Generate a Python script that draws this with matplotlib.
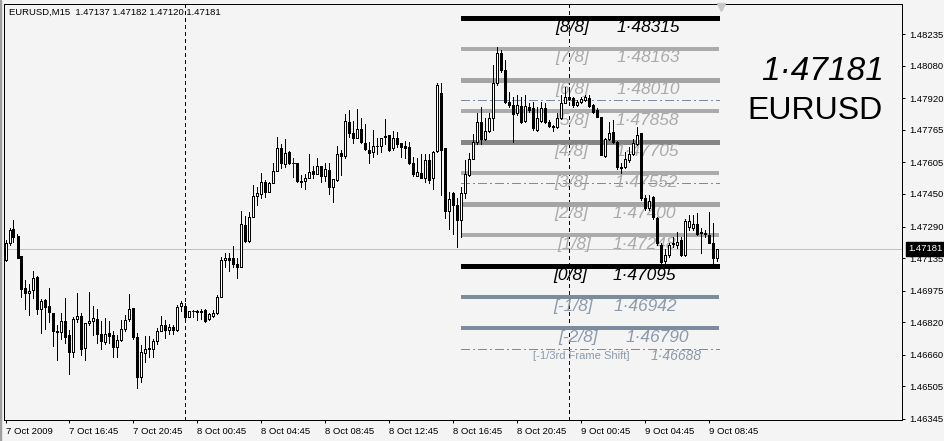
import matplotlib
matplotlib.use("Agg")
import matplotlib.pyplot as plt
from matplotlib.transforms import blended_transform_factory
from matplotlib.patches import Rectangle
import numpy as np

plt.rcParams['font.family'] = ['Liberation Sans', 'DejaVu Sans']

symbol = "EURUSD"
timeframe = "M15"

opens = [
    1.47126, 1.47208, 1.47276, 1.47244, 1.47145, 1.46986, 1.46962, 1.46976, 1.47042, 1.46883,
    1.46929, 1.46899, 1.46865, 1.46778, 1.46772, 1.46826, 1.46757, 1.46672, 1.46834, 1.46850,
    1.46691, 1.46814, 1.46826, 1.46835, 1.46762, 1.46721, 1.46767, 1.46755, 1.46696, 1.46731,
    1.46786, 1.46834, 1.46888, 1.46749, 1.46552, 1.46670, 1.46693, 1.46690, 1.46727, 1.46777,
    1.46804, 1.46781, 1.46795, 1.46781, 1.46899, 1.46899, 1.46847, 1.46875, 1.46873, 1.46875,
    1.46880, 1.46834, 1.46850, 1.46863, 1.46942, 1.47126, 1.47135, 1.47135, 1.47106, 1.47093,
    1.47298, 1.47217, 1.47335, 1.47442, 1.47450, 1.47509, 1.47462, 1.47503, 1.47565, 1.47675,
    1.47596, 1.47655, 1.47601, 1.47601, 1.47516, 1.47514, 1.47530, 1.47563, 1.47550, 1.47588,
    1.47540, 1.47568, 1.47486, 1.47517, 1.47650, 1.47639, 1.47803, 1.47748, 1.47727, 1.47770,
    1.47699, 1.47667, 1.47655, 1.47686, 1.47686, 1.47729, 1.47740, 1.47675, 1.47724, 1.47699,
    1.47686, 1.47680, 1.47601, 1.47540, 1.47552, 1.47530, 1.47617, 1.47527, 1.47662, 1.47945,
    1.47675, 1.47368, 1.47453, 1.47396, 1.47322, 1.47457, 1.47544, 1.47621, 1.47704, 1.47806,
    1.47721, 1.47762, 1.47822, 1.47994, 1.48145, 1.48060, 1.47904, 1.47888, 1.47850, 1.47883,
    1.47811, 1.47880, 1.47871, 1.47765, 1.47811, 1.47871, 1.47806, 1.47784, 1.47778, 1.47822,
    1.47899, 1.47925, 1.47921, 1.47888, 1.47904, 1.47912, 1.47921, 1.47888, 1.47863, 1.47827,
    1.47637, 1.47719, 1.47757, 1.47707, 1.47581, 1.47581, 1.47617, 1.47647, 1.47696, 1.47748,
    1.47429, 1.47380, 1.47434, 1.47334, 1.47199, 1.47122, 1.47150, 1.47208, 1.47199, 1.47224,
    1.47150, 1.47286, 1.47281, 1.47303, 1.47265, 1.47257, 1.47249, 1.47211, 1.47137]

highs = [
    1.47224, 1.47281, 1.47322, 1.47253, 1.47145, 1.47027, 1.47008, 1.47072, 1.47047, 1.46932,
    1.46932, 1.46988, 1.46865, 1.46806, 1.46867, 1.46937, 1.46780, 1.46844, 1.46965, 1.46863,
    1.46817, 1.46970, 1.46901, 1.46885, 1.46826, 1.46842, 1.46826, 1.46775, 1.46757, 1.46831,
    1.46855, 1.46957, 1.46888, 1.46765, 1.46708, 1.46754, 1.46752, 1.46737, 1.46790, 1.46850,
    1.46831, 1.46811, 1.46806, 1.46903, 1.46924, 1.46916, 1.46877, 1.46880, 1.46880, 1.46883,
    1.46883, 1.46867, 1.46880, 1.46954, 1.47139, 1.47162, 1.47158, 1.47195, 1.47134, 1.47368,
    1.47342, 1.47363, 1.47494, 1.47486, 1.47552, 1.47519, 1.47511, 1.47601, 1.47732, 1.47696,
    1.47719, 1.47662, 1.47626, 1.47601, 1.47544, 1.47547, 1.47645, 1.47589, 1.47626, 1.47588,
    1.47601, 1.47601, 1.47524, 1.47686, 1.47667, 1.47844, 1.47863, 1.47809, 1.47868, 1.47825,
    1.47794, 1.47707, 1.47765, 1.47727, 1.47727, 1.47819, 1.47740, 1.47760, 1.47757, 1.47699,
    1.47711, 1.47707, 1.47634, 1.47629, 1.47645, 1.47645, 1.47645, 1.47662, 1.47998, 1.47998,
    1.47675, 1.47462, 1.47462, 1.47429, 1.47486, 1.47617, 1.47653, 1.47745, 1.47847, 1.47880,
    1.47822, 1.47847, 1.48084, 1.48171, 1.48158, 1.48109, 1.47953, 1.47929, 1.47937, 1.47925,
    1.47937, 1.47896, 1.47904, 1.47880, 1.47904, 1.47896, 1.47814, 1.47789, 1.47847, 1.47937,
    1.47978, 1.47978, 1.47929, 1.47912, 1.47929, 1.47937, 1.47937, 1.47893, 1.47871, 1.47830,
    1.47724, 1.47806, 1.47814, 1.47712, 1.47601, 1.47658, 1.47683, 1.47719, 1.47781, 1.47752,
    1.47445, 1.47445, 1.47440, 1.47339, 1.47208, 1.47178, 1.47208, 1.47237, 1.47265, 1.47240,
    1.47326, 1.47347, 1.47347, 1.47355, 1.47281, 1.47273, 1.47363, 1.47306, 1.47182]

lows = [
    1.47122, 1.47199, 1.47216, 1.47134, 1.46945, 1.46886, 1.46854, 1.46937, 1.46862, 1.46768,
    1.46786, 1.46822, 1.46704, 1.46632, 1.46736, 1.46716, 1.46567, 1.46647, 1.46822, 1.46658,
    1.46634, 1.46806, 1.46757, 1.46716, 1.46686, 1.46711, 1.46719, 1.46647, 1.46647, 1.46726,
    1.46776, 1.46826, 1.46739, 1.46495, 1.46527, 1.46626, 1.46647, 1.46647, 1.46713, 1.46777,
    1.46741, 1.46760, 1.46760, 1.46778, 1.46877, 1.46831, 1.46847, 1.46844, 1.46831, 1.46834,
    1.46819, 1.46831, 1.46847, 1.46860, 1.46942, 1.47093, 1.47073, 1.47093, 1.47036, 1.47093,
    1.47216, 1.47216, 1.47335, 1.47396, 1.47429, 1.47437, 1.47462, 1.47503, 1.47565, 1.47576,
    1.47585, 1.47596, 1.47535, 1.47511, 1.47486, 1.47473, 1.47527, 1.47527, 1.47547, 1.47511,
    1.47514, 1.47449, 1.47412, 1.47516, 1.47544, 1.47626, 1.47732, 1.47703, 1.47727, 1.47699,
    1.47667, 1.47601, 1.47634, 1.47645, 1.47658, 1.47694, 1.47662, 1.47667, 1.47680, 1.47634,
    1.47626, 1.47596, 1.47540, 1.47539, 1.47527, 1.47511, 1.47503, 1.47473, 1.47658, 1.47445,
    1.47330, 1.47276, 1.47253, 1.47188, 1.47240, 1.47429, 1.47539, 1.47621, 1.47696, 1.47696,
    1.47716, 1.47757, 1.47765, 1.47986, 1.48052, 1.47896, 1.47880, 1.47707, 1.47839, 1.47798,
    1.47806, 1.47855, 1.47765, 1.47762, 1.47806, 1.47801, 1.47778, 1.47762, 1.47773, 1.47817,
    1.47896, 1.47912, 1.47880, 1.47883, 1.47896, 1.47909, 1.47880, 1.47847, 1.47827, 1.47642,
    1.47630, 1.47716, 1.47699, 1.47571, 1.47555, 1.47576, 1.47609, 1.47642, 1.47691, 1.47421,
    1.47371, 1.47371, 1.47326, 1.47199, 1.47093, 1.47093, 1.47142, 1.47191, 1.47183, 1.47145,
    1.47145, 1.47273, 1.47273, 1.47249, 1.47158, 1.47240, 1.47208, 1.47112, 1.47120]

closes = [
    1.47208, 1.47273, 1.47240, 1.47137, 1.46985, 1.46962, 1.46973, 1.47035, 1.46883, 1.46924,
    1.46896, 1.46870, 1.46775, 1.46772, 1.46826, 1.46745, 1.46675, 1.46835, 1.46850, 1.46690,
    1.46814, 1.46826, 1.46839, 1.46762, 1.46729, 1.46760, 1.46750, 1.46696, 1.46731, 1.46786,
    1.46831, 1.46885, 1.46749, 1.46552, 1.46672, 1.46686, 1.46686, 1.46727, 1.46777, 1.46804,
    1.46781, 1.46798, 1.46781, 1.46896, 1.46916, 1.46847, 1.46877, 1.46875, 1.46868, 1.46870,
    1.46827, 1.46859, 1.46867, 1.46942, 1.47126, 1.47134, 1.47126, 1.47104, 1.47090, 1.47301,
    1.47217, 1.47335, 1.47442, 1.47453, 1.47509, 1.47462, 1.47503, 1.47565, 1.47675, 1.47601,
    1.47653, 1.47601, 1.47601, 1.47514, 1.47511, 1.47527, 1.47560, 1.47550, 1.47588, 1.47540,
    1.47573, 1.47486, 1.47522, 1.47645, 1.47639, 1.47809, 1.47748, 1.47724, 1.47770, 1.47704,
    1.47671, 1.47653, 1.47686, 1.47685, 1.47724, 1.47737, 1.47667, 1.47724, 1.47696, 1.47680,
    1.47678, 1.47601, 1.47547, 1.47557, 1.47530, 1.47617, 1.47519, 1.47658, 1.47986, 1.47666,
    1.47368, 1.47424, 1.47396, 1.47322, 1.47457, 1.47547, 1.47621, 1.47704, 1.47806, 1.47721,
    1.47762, 1.47822, 1.47994, 1.48145, 1.48060, 1.47904, 1.47888, 1.47843, 1.47888, 1.47806,
    1.47883, 1.47863, 1.47773, 1.47825, 1.47871, 1.47806, 1.47784, 1.47778, 1.47822, 1.47899,
    1.47925, 1.47919, 1.47888, 1.47904, 1.47916, 1.47925, 1.47883, 1.47855, 1.47830, 1.47642,
    1.47719, 1.47752, 1.47707, 1.47581, 1.47580, 1.47622, 1.47647, 1.47699, 1.47740, 1.47429,
    1.47380, 1.47417, 1.47339, 1.47208, 1.47117, 1.47150, 1.47199, 1.47203, 1.47216, 1.47150,
    1.47319, 1.47319, 1.47303, 1.47253, 1.47257, 1.47252, 1.47211, 1.47134, 1.47181]

time_labels = ["7 Oct 2009", "7 Oct 16:45", "7 Oct 20:45", "8 Oct 00:45", "8 Oct 04:45",
               "8 Oct 08:45", "8 Oct 12:45", "8 Oct 16:45", "8 Oct 20:45", "9 Oct 00:45",
               "9 Oct 04:45", "9 Oct 08:45"]
time_label_bars = [0, 16, 32, 48, 64, 80, 96, 112, 128, 144, 160, 176]
separator_bars = [45, 141]

price_ticks = [1.48235, 1.48080, 1.47920, 1.47765, 1.47605, 1.47450, 1.47290,
               1.47135, 1.46975, 1.46820, 1.46660, 1.46505, 1.46345]

mm_names = ["[8/8]", "[7/8]", "[6/8]", "[5/8]", "[4/8]", "[3/8]", "[2/8]",
            "[1/8]", "[0/8]", "[-1/8]", "[-2/8]"]
mm_levels = [1.48315, 1.48163, 1.48010, 1.47858, 1.47705, 1.47552, 1.47400,
             1.47248, 1.47095, 1.46942, 1.46790]
frame_name = "[-1/3rd Frame Shift]"
frame_shift_levels = [1.47910, 1.47502, 1.46688]

# ---- styles ----
mm_colors = ["#000000", "#ababab", "#a4a4a4", "#ababab", "#858585", "#ababab", "#a4a4a4",
             "#ababab", "#000000", "#7d8c9c", "#7d8c9c"]
mm_text_colors = ["#000000", "#aaaaaa", "#aaaaaa", "#aaaaaa", "#aaaaaa", "#aaaaaa", "#aaaaaa",
                  "#aaaaaa", "#000000", "#8c9aab", "#8c9aab"]
mm_lws = [2.3, 1.5, 2.2, 1.5, 2.4, 1.5, 2.2, 1.5, 2.3, 1.6, 1.6]
mm_name_x = [137.5, 137.5, 137.5, 137.5, 137.3, 137.3, 137.3, 138.0, 137.0, 137.0, 138.3]
mm_val_x = [152.7, 152.7, 152.7, 152.5, 152.5, 152.3, 151.8, 151.8, 151.8, 152.0, 155.0]
mm_x0, mm_x1 = 114.0, 178.3

W, H = 945, 441
fig = plt.figure(figsize=(W / 100, H / 100), dpi=100, facecolor="#f4f4f4")
ax_l, ax_r, ax_t, ax_b = 4, 902, 4, 420
ax = fig.add_axes([ax_l / W, 1 - ax_b / H, (ax_r - ax_l) / W, (ax_b - ax_t) / H])
ax.set_facecolor("#f4f4f4")

o = np.array(opens); h = np.array(highs); l = np.array(lows); c = np.array(closes)
x = np.arange(len(o))
ppx = 0.00004917
# bar centres sit on pixel centres (4 px per bar)
ax.set_xlim(-0.375, 224.125)
ax.set_ylim(1.46339, 1.48384)

PX = 0.72  # one pixel in points

# current price line
ax.axhline(c[-1], color="#c0c0c0", lw=PX, zorder=1, antialiased=False)

# period separators
for sb in separator_bars:
    ax.axvline(sb, color="black", lw=PX, linestyle=(0, (3, 3)), zorder=1.5,
               antialiased=False)

# Murrey math lines
for lvl, col, lw in zip(mm_levels, mm_colors, mm_lws):
    ax.hlines(lvl, mm_x0, mm_x1, colors=col, lw=lw, zorder=2, antialiased=False)
for lvl in frame_shift_levels:
    ax.hlines(lvl, mm_x0, mm_x1, colors="#7d8c9c", lw=PX,
              linestyles=[(0, (9, 3, 2, 3))], zorder=2, antialiased=False)

for name, lvl, tc, nx, vx in zip(mm_names, mm_levels, mm_text_colors, mm_name_x, mm_val_x):
    ax.annotate(name, (nx, lvl), xytext=(0, -9), textcoords="offset pixels",
                fontsize=12.5, style="italic", color=tc, va="center", ha="left", zorder=3)
    ax.annotate(f"{lvl:.5f}".replace(".", "·"), (vx, lvl), xytext=(0, -9),
                textcoords="offset pixels", fontsize=12.5, style="italic", color=tc,
                va="center", ha="left", zorder=3)
ax.annotate(frame_name, (132.0, frame_shift_levels[-1]), xytext=(0, -7),
            textcoords="offset pixels", fontsize=8, color="#8c9aab", va="center",
            ha="left", zorder=3)
ax.annotate(f"{frame_shift_levels[-1]:.5f}".replace(".", "·"), (161.3, frame_shift_levels[-1]),
            xytext=(0, -7), textcoords="offset pixels", fontsize=10, style="italic",
            color="#8c9aab", va="center", ha="left", zorder=3)

# candles
up = c > o
dn = c < o
dj = c == o
wick_cols = np.where(dj, "#0000ff", "#000000")
ax.vlines(x, l, h, colors=list(wick_cols), lw=PX, zorder=5, antialiased=False)
ax.bar(x[up], (c - o)[up], bottom=o[up], width=0.5, color="white", edgecolor="black",
       lw=PX, zorder=6, antialiased=False)
ax.bar(x[dn], (o - c)[dn], bottom=c[dn], width=0.5, color="black", edgecolor="black",
       lw=PX, zorder=6, antialiased=False)
ax.hlines(o[dj], x[dj] - 0.3, x[dj] + 0.3, colors="#0000ff", lw=PX, zorder=6,
          antialiased=False)

# axes styling
for sp in ax.spines.values():
    sp.set_color("black")
    sp.set_linewidth(PX)
ax.yaxis.tick_right()
ax.set_yticks(price_ticks)
ax.set_yticklabels([f"{v:.5f}" for v in price_ticks])
ax.tick_params(axis="y", direction="out", length=2.5, width=PX, pad=3, labelsize=6.8,
               colors="black")
ax.set_xticks(time_label_bars)
ax.set_xticklabels(time_labels, ha="left")
ax.tick_params(axis="x", direction="out", length=2.5, width=PX, pad=2.5, labelsize=6.8)
for lab in ax.get_xticklabels():
    lab.set_horizontalalignment("left")

# current price box on the axis
tr = blended_transform_factory(ax.transAxes, ax.transData)
ax.text(1.0068, c[-1], f"{c[-1]:.5f}", transform=tr, color="white", fontsize=6.8,
        va="center", ha="left", clip_on=False, zorder=10,
        bbox=dict(boxstyle="square,pad=0.25", fc="black", ec="black"))

# chart shift marker
ax.plot([179], [1.48384 - 3 * ppx], marker="v", ms=6, color="#c8c8c8", mec="#c8c8c8",
        clip_on=False, zorder=4)

# header text
fig.text(9 / W, 1 - 12 / H,
         f"{symbol},{timeframe}  {o[-1]:.5f} {h[-1]:.5f} {l[-1]:.5f} {c[-1]:.5f}",
         fontsize=6.8, va="center", ha="left", color="black")

# big price and symbol
fig.text(884 / W, 1 - 72 / H, f"{c[-1]:.5f}".replace(".", "·"), fontsize=24,
         style="italic", va="center", ha="right", color="black")
fig.text(883 / W, 1 - 111 / H, symbol, fontsize=23, va="center", ha="right", color="black")

# outer window edge
fig.add_artist(Rectangle((0, 0), 1.5 / W, 1, transform=fig.transFigure, color="#a0a0a0"))

fig.savefig("out.png", dpi=100, facecolor=fig.get_facecolor())
